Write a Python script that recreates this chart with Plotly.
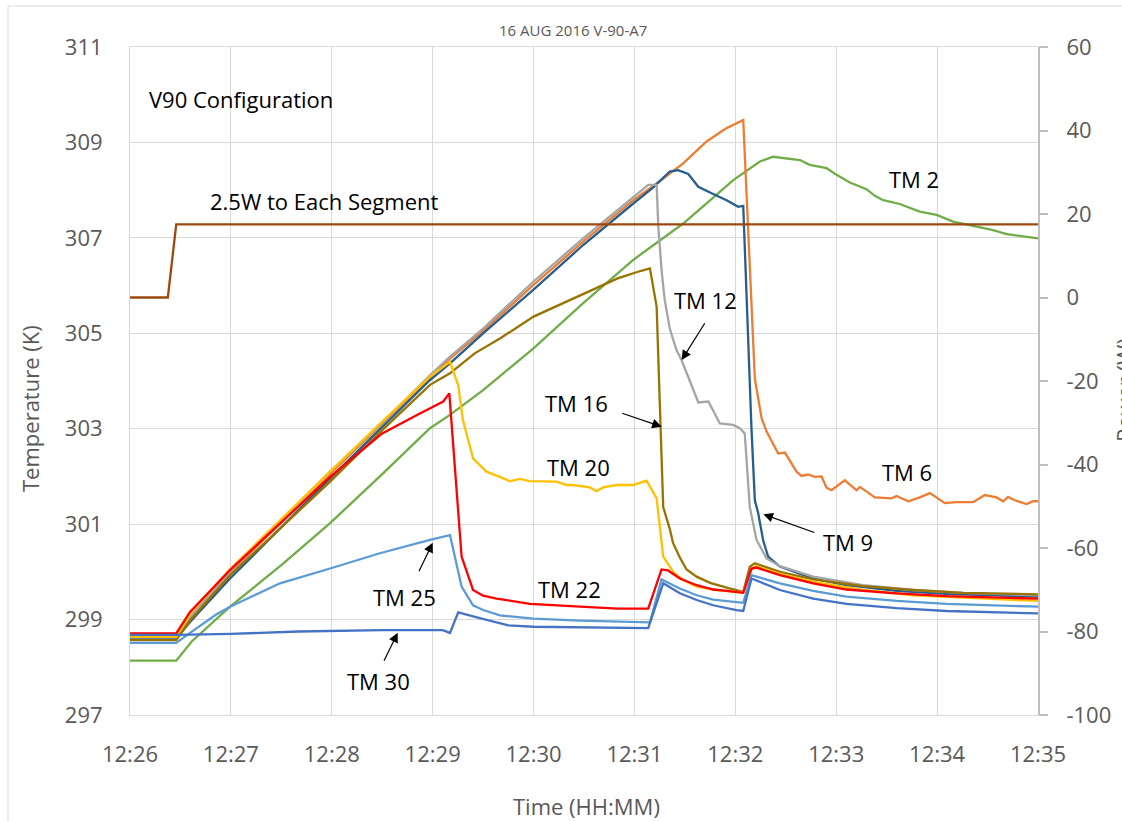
import pandas as pd
import plotly.graph_objects as go

BASE = pd.Timestamp("2016-08-16 12:26:00")

# ---------------- data (time in seconds after 12:26:00, temperature in K) ----------------
t_tm2 = [0, 27.5, 36.7, 59.5, 90, 119, 150, 178.4, 190.3, 210, 239.8, 269.5, 299.3, 329, 358.8,
         374.6, 382.5, 388.4, 398.4, 404.3, 414.3, 420.2, 428.1, 438.0, 443.0, 447.9, 457.8, 469.7,
         479.7, 489.5, 501.4, 513.3, 521.3, 529.2, 540]
v_tm2 = [298.14, 298.14, 298.54, 299.27, 300.14, 301.02, 302.05, 303.01, 303.29, 303.81, 304.68, 305.63,
         306.54, 307.30, 308.21, 308.60, 308.70, 308.67, 308.63, 308.53, 308.46, 308.32, 308.16, 308.02,
         307.88, 307.79, 307.71, 307.55, 307.48, 307.34, 307.25, 307.16, 307.08, 307.04, 306.99]

t_tm6 = [0, 27.5, 35.7, 59.5, 119, 150, 178.4, 190.3, 210, 239.8, 269.5, 299.3, 313.2, 329, 342.9,
         354.8, 364.7, 369.6, 371.6, 375.6, 378.6, 385.5, 389.5, 396.4, 399.4, 403.3, 407.3, 411.3,
         414.3, 417.2, 425.1, 432.1, 434.1, 443.0, 452.9, 455.9, 462.8, 469.7, 475.7, 484.6, 491.6,
         501.4, 508.4, 515.3, 519.3, 522.2, 526.2, 533.2, 537.1, 540]
v_tm6 = [298.62, 298.62, 299.03, 299.98, 302.05, 303.10, 304.07, 304.47, 305.05, 306.01, 306.92, 307.79,
         308.14, 308.56, 309.02, 309.30, 309.47, 305.70, 304.05, 303.22, 302.94, 302.48, 302.50, 302.10,
         302.01, 302.04, 301.99, 302.00, 301.76, 301.71, 301.92, 301.71, 301.78, 301.56, 301.54, 301.59,
         301.48, 301.56, 301.65, 301.44, 301.46, 301.46, 301.61, 301.56, 301.48, 301.57, 301.50, 301.42,
         301.48, 301.48]

t_tm9 = [0, 27.5, 35.7, 59.5, 119, 150, 178.4, 190.3, 210, 239.8, 269.5, 299.3, 311.2, 321, 326, 332,
         338, 346.8, 354.8, 361.7, 364.7, 369.6, 371.6, 373.6, 376.6, 379.5, 386.5, 406.3, 426.1, 455.9,
         485.6, 540]
v_tm9 = [298.60, 298.60, 298.95, 299.86, 301.96, 303.04, 304.02, 304.37, 305.00, 305.91, 306.85, 307.72,
         308.06, 308.39, 308.42, 308.34, 308.07, 307.92, 307.79, 307.65, 307.67, 303.00, 301.50, 301.23,
         300.65, 300.32, 300.11, 299.86, 299.72, 299.60, 299.54, 299.48]

t_tm12 = [0, 27.5, 35.7, 59.5, 119, 150, 178.4, 190.3, 210, 239.8, 269.5, 299.3, 308.2, 313.2, 314.2,
          316.2, 318, 321, 325, 328, 331, 335, 338, 344, 350.8, 358.7, 362.7, 365.6, 368.6, 372.6,
          378.6, 386.5, 406.3, 436, 465.7, 495.5, 540]
v_tm12 = [298.58, 298.58, 299.05, 300.00, 302.10, 303.12, 304.12, 304.51, 305.10, 306.08, 306.99, 307.86,
          308.11, 308.11, 307.23, 306.30, 305.70, 305.10, 304.65, 304.44, 304.16, 303.81, 303.55, 303.57,
          303.11, 303.08, 303.01, 302.90, 301.36, 300.67, 300.28, 300.12, 299.90, 299.72, 299.62, 299.56,
          299.51]

t_tm16 = [0, 27.5, 35.7, 59.5, 119, 150, 178.4, 190.3, 205, 220, 240, 270, 290, 304, 309.2, 313.2,
          315.5, 317.1, 321, 323, 327, 331, 337, 345, 357, 364.7, 368.6, 371.6, 386.5, 406.3, 436,
          465.7, 495.5, 540]
v_tm16 = [298.57, 298.57, 298.98, 299.93, 301.89, 302.97, 303.92, 304.16, 304.58, 304.89, 305.35, 305.84,
          306.15, 306.31, 306.36, 305.56, 303.04, 301.36, 300.90, 300.60, 300.30, 300.05, 299.90, 299.77,
          299.65, 299.58, 300.11, 300.18, 300.00, 299.84, 299.70, 299.62, 299.56, 299.53]

t_tm20 = [0, 27.5, 35.7, 59.5, 119, 150, 178.4, 190.3, 195.2, 198, 204, 212, 220, 226, 231.9, 237.8,
          253.7, 259.7, 263.6, 273.5, 277.5, 281.4, 289.4, 299.3, 307.2, 313.2, 317.1, 321, 323.7, 329,
          337, 349, 364.7, 369.6, 372, 386.5, 406.3, 436, 465.7, 495.5, 540]
v_tm20 = [298.64, 298.64, 299.12, 300.06, 302.10, 303.15, 304.09, 304.40, 303.91, 303.18, 302.38, 302.10,
          301.99, 301.90, 301.95, 301.90, 301.89, 301.82, 301.82, 301.77, 301.69, 301.77, 301.82, 301.82,
          301.91, 301.54, 300.32, 300.11, 299.97, 299.83, 299.69, 299.62, 299.56, 300.05, 300.12, 299.96,
          299.79, 299.62, 299.51, 299.46, 299.39]

t_tm22 = [0, 27.5, 35.7, 59.5, 119, 150, 172.4, 180.3, 186.3, 189.9, 197.2, 204, 210, 218, 237.8,
          267.6, 290, 308.2, 316.1, 320, 327, 337, 346.8, 355, 364.7, 369.6, 372.6, 386.5, 406.3,
          426.1, 455.9, 485.6, 540]
v_tm22 = [298.71, 298.71, 299.16, 300.04, 301.99, 302.90, 303.32, 303.46, 303.57, 303.74, 300.32, 299.62,
          299.50, 299.44, 299.33, 299.27, 299.23, 299.23, 300.05, 300.03, 299.86, 299.72, 299.63, 299.60,
          299.56, 300.07, 300.09, 299.93, 299.76, 299.63, 299.55, 299.49, 299.44]

t_tm25 = [0, 27.5, 35.7, 51.5, 59.5, 89.2, 119, 148.6, 178.4, 190.3, 197.2, 204, 210, 220, 239.8,
          267.6, 309.2, 316.1, 327, 337, 346.8, 364.7, 369.6, 386.5, 406.3, 426.1, 455.9, 485.6, 540]
v_tm25 = [298.51, 298.51, 298.72, 299.11, 299.27, 299.76, 300.07, 300.39, 300.67, 300.77, 299.69, 299.30,
          299.20, 299.09, 299.02, 298.98, 298.94, 299.84, 299.65, 299.51, 299.42, 299.35, 299.93, 299.76,
          299.60, 299.48, 299.39, 299.33, 299.27]

t_tm30 = [0, 27.5, 60, 100, 150, 178.4, 186, 190.3, 195.2, 208, 225, 240, 257.6, 308.2, 317.1, 327,
          337, 346.8, 360.7, 364.7, 369.6, 386.5, 406.3, 426.1, 455.9, 485.6, 540]
v_tm30 = [298.68, 298.68, 298.70, 298.75, 298.78, 298.78, 298.78, 298.72, 299.15, 299.03, 298.88, 298.85,
          298.84, 298.82, 299.76, 299.55, 299.41, 299.30, 299.20, 299.18, 299.86, 299.62, 299.44, 299.33,
          299.24, 299.18, 299.13]

t_power = [0, 22.5, 27.5, 540]
v_power = [0, 0, 17.5, 17.5]

power_ticks = [-100, -80, -60, -40, -20, 0, 20, 40, 60]
power_labels = ["-100", "-80", "-60", "-40", "-20", "0", "20", "40", "60"]

series = [
    ("TM 2", t_tm2, v_tm2, "#70AD47"),
    ("TM 6", t_tm6, v_tm6, "#ED7D31"),
    ("TM 9", t_tm9, v_tm9, "#255E91"),
    ("TM 12", t_tm12, v_tm12, "#A5A5A5"),
    ("TM 16", t_tm16, v_tm16, "#997300"),
    ("TM 20", t_tm20, v_tm20, "#FFC000"),
    ("TM 22", t_tm22, v_tm22, "#FF0000"),
    ("TM 25", t_tm25, v_tm25, "#5B9BD5"),
    ("TM 30", t_tm30, v_tm30, "#4472C4"),
]


def to_time(secs):
    return [BASE + pd.Timedelta(seconds=s) for s in secs]


fig = go.Figure()
for name, ts, vs, col in series:
    fig.add_trace(go.Scatter(x=to_time(ts), y=vs, mode="lines", name=name,
                             line=dict(color=col, width=2.3)))
fig.add_trace(go.Scatter(x=to_time(t_power), y=v_power, mode="lines", name="Power",
                         yaxis="y2", line=dict(color="#9E480E", width=2.3)))

# ---------------- layout ----------------
L, R, T, B = 130, 1038, 47, 715


def pp(x, y):
    return (x - L) / (R - L), (B - y) / (B - T)


GRAY = "#595959"
TICKFONT = dict(family="Open Sans", size=22, color=GRAY)

fig.update_layout(
    width=1122, height=821,
    margin=dict(l=L, r=1122 - R, t=T, b=821 - B),
    paper_bgcolor="white", plot_bgcolor="white",
    showlegend=False,
    font=dict(family="Open Sans", color=GRAY),
    xaxis=dict(range=[BASE, BASE + pd.Timedelta(minutes=9)], dtick=60000, tickformat="%H:%M",
               showgrid=True, gridcolor="#D9D9D9", gridwidth=1, zeroline=False,
               showline=True, linecolor="#D9D9D9", linewidth=1, mirror=True,
               ticks="", tickfont=TICKFONT, ticklabelstandoff=20),
    yaxis=dict(range=[297, 311], tick0=297, dtick=2, showgrid=True, gridcolor="#D9D9D9", gridwidth=1,
               zeroline=False, showline=True, linecolor="#D9D9D9", linewidth=1,
               ticks="", tickfont=TICKFONT, ticklabelstandoff=22),
    yaxis2=dict(range=[-100, 60], tickmode="array", tickvals=power_ticks, ticktext=power_labels,
                overlaying="y", side="right", showgrid=False,
                zeroline=False, showline=True, linecolor="#BFBFBF", linewidth=2,
                ticks="outside", ticklen=8, tickwidth=1.5, tickcolor="#BFBFBF",
                tickfont=TICKFONT, ticklabelstandoff=14),
)

ann = []


def text_ann(txt, x, y, size=22, color="black", xanchor="center", angle=0):
    px_, py_ = pp(x, y)
    ann.append(dict(text=txt, x=px_, y=py_, xref="paper", yref="paper", showarrow=False,
                    xanchor=xanchor, yanchor="middle", textangle=angle,
                    font=dict(family="Open Sans", size=size, color=color)))


def arrow(hx, hy, tx, ty):
    px_, py_ = pp(hx, hy)
    ann.append(dict(text="", x=px_, y=py_, xref="paper", yref="paper", showarrow=True,
                    ax=tx - hx, ay=ty - hy, arrowhead=2, arrowsize=1.6, arrowwidth=1.2,
                    arrowcolor="black"))


text_ann("16 AUG 2016 V-90-A7", 573, 30, size=15, color=GRAY)
text_ann("V90 Configuration", 146.7, 99, xanchor="left")
text_ann("2.5W to Each Segment", 208.3, 201, xanchor="left")
text_ann("TM 2", 913.7, 179)
text_ann("TM 12", 705.8, 300)
text_ann("TM 16", 576.7, 403.3)
text_ann("TM 20", 578, 466.7)
text_ann("TM 6", 906.7, 471.7)
text_ann("TM 9", 848, 541.7)
text_ann("TM 22", 569.2, 589.2)
text_ann("TM 25", 404.5, 597)
text_ann("TM 30", 378.3, 681)

arrow(681.7, 360, 705.7, 321.7)
arrow(661.7, 426.7, 620.7, 412.7)
arrow(763.4, 514.3, 815.8, 533)
arrow(432.7, 542.7, 418.3, 572.7)
arrow(397.7, 632.7, 383.3, 662.3)

text_ann("Temperature (K)", 30, 409, color=GRAY, angle=-90)
text_ann("Power (W)", 1124, 390, color=GRAY, angle=-90)
text_ann("Time (HH:MM)", 586, 806, color=GRAY)

fig.update_layout(annotations=ann)

# outer chart border (top and left edges visible in the frame)
ax0, ay0 = pp(8, 6)
ax1, ay1 = pp(1122, 821)
fig.add_shape(type="line", xref="paper", yref="paper", x0=ax0, x1=ax1, y0=ay0, y1=ay0,
              line=dict(color="#D9D9D9", width=1), layer="below")
fig.add_shape(type="line", xref="paper", yref="paper", x0=ax0, x1=ax0, y0=ay0, y1=ay1,
              line=dict(color="#D9D9D9", width=1), layer="below")

fig.write_html("out.html", config={"displayModeBar": False},
               post_script="document.body.style.margin='0px';document.body.style.overflow='hidden';")
